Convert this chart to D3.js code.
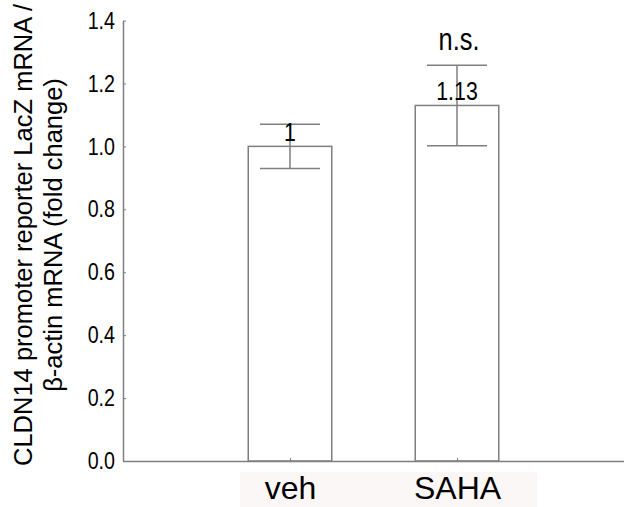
<!DOCTYPE html>
<html>
<head>
<meta charset="utf-8">
<script src="https://cdn.jsdelivr.net/npm/d3@7"></script>
<style>
    body { margin: 0; background: #fff; }
    svg { display: block; }
</style>
</head>
<body>
<svg id="chart" width="624" height="507"></svg>
<script>
const categories = ['veh', 'SAHA'];
const means = [1, 1.13];
const sem = [0.07, 0.128];
const valueLabels = ['1', '1.13'];
const sigLabels = ['', 'n.s.'];
const yTicks = [0, 0.2, 0.4, 0.6, 0.8, 1.0, 1.2, 1.4];

const grey = '#7f7f7f';
const font = '"Liberation Sans", Arial, sans-serif';
const squeeze = 0.82; // narrow look of the number labels

const svg = d3.select('#chart');

const y = d3.scaleLinear().domain([0, 1.4]).range([461, 20.5]);
// category positions 1 and 2 on a 0..3 axis
const x = d3.scaleLinear().domain([0, categories.length + 1]).range([123, 624]);
const barW = x(0.5) - x(0);

// light background behind category labels
svg.append('rect')
    .attr('x', 240).attr('y', 472)
    .attr('width', 297).attr('height', 35)
    .attr('fill', '#fcf7f7');

// bars
svg.selectAll('rect.bar')
    .data(means)
    .join('rect')
    .attr('class', 'bar')
    .attr('x', (d, i) => x(i + 1) - barW / 2)
    .attr('y', d => y(d))
    .attr('width', barW)
    .attr('height', d => y(0) - y(d))
    .attr('fill', '#fff')
    .attr('stroke', grey)
    .attr('stroke-width', 1.5);

// error bars
const capW = 60;
const err = svg.append('g').attr('stroke', grey).attr('stroke-width', 1.5);
means.forEach((m, i) => {
    const cx = x(i + 1);
    err.append('line')
        .attr('x1', cx).attr('x2', cx)
        .attr('y1', y(m - sem[i])).attr('y2', y(m + sem[i]));
    [m - sem[i], m + sem[i]].forEach(v => {
        err.append('line')
            .attr('x1', cx - capW / 2).attr('x2', cx + capW / 2)
            .attr('y1', y(v)).attr('y2', y(v));
    });
});

// value labels
svg.selectAll('text.val')
    .data(valueLabels)
    .join('text')
    .attr('class', 'val')
    .attr('transform', `scale(${squeeze},1)`)
    .attr('x', (d, i) => x(i + 1) / squeeze)
    .attr('y', (d, i) => y(means[i]) - 5)
    .attr('text-anchor', 'middle')
    .style('font-family', font)
    .style('font-size', '26px')
    .attr('fill', '#000')
    .text(d => d);

// significance labels
svg.selectAll('text.sig')
    .data(sigLabels)
    .join('text')
    .attr('class', 'sig')
    .attr('transform', `scale(${squeeze},1)`)
    .attr('x', (d, i) => (x(i + 1) + 2) / squeeze)
    .attr('y', (d, i) => y(means[i] + sem[i]) - 15)
    .attr('text-anchor', 'middle')
    .style('font-family', font)
    .style('font-size', '31px')
    .attr('fill', '#000')
    .text(d => d);

// y axis
const yAxis = svg.append('g')
    .attr('transform', `translate(${x(0)},0)`)
    .call(d3.axisLeft(y).tickValues(yTicks).tickFormat(d3.format('.1f'))
        .tickSizeInner(-3).tickSizeOuter(0).tickPadding(8));
yAxis.select('.domain').attr('stroke', grey).attr('stroke-width', 1.5);
yAxis.selectAll('.tick line').attr('stroke', grey);
yAxis.selectAll('.tick text')
    .attr('transform', `scale(${squeeze},1)`)
    .attr('x', -8 / squeeze)
    .style('font-family', font)
    .style('font-size', '24px')
    .attr('fill', '#000');

// x axis
const xAxis = svg.append('g')
    .attr('transform', `translate(0,${y(0)})`)
    .call(d3.axisBottom(x).tickValues(categories.map((c, i) => i + 1))
        .tickFormat((d, i) => categories[i])
        .tickSizeInner(-3).tickSizeOuter(0).tickPadding(15));
xAxis.select('.domain').attr('stroke', grey).attr('stroke-width', 1.5);
xAxis.selectAll('.tick line').attr('stroke', grey);
xAxis.selectAll('.tick text')
    .style('font-family', font)
    .style('font-size', '32px')
    .attr('fill', '#000');

// y title
const title = svg.append('text')
    .attr('transform', 'translate(0,235) rotate(-90)')
    .attr('text-anchor', 'middle')
    .style('font-family', font)
    .style('font-size', '25.5px')
    .attr('fill', '#000');
title.append('tspan').attr('x', 0).attr('y', 32).text('CLDN14 promoter reporter LacZ mRNA /');
title.append('tspan').attr('x', 0).attr('y', 62).text('β-actin mRNA (fold change)');
</script>
</body>
</html>
